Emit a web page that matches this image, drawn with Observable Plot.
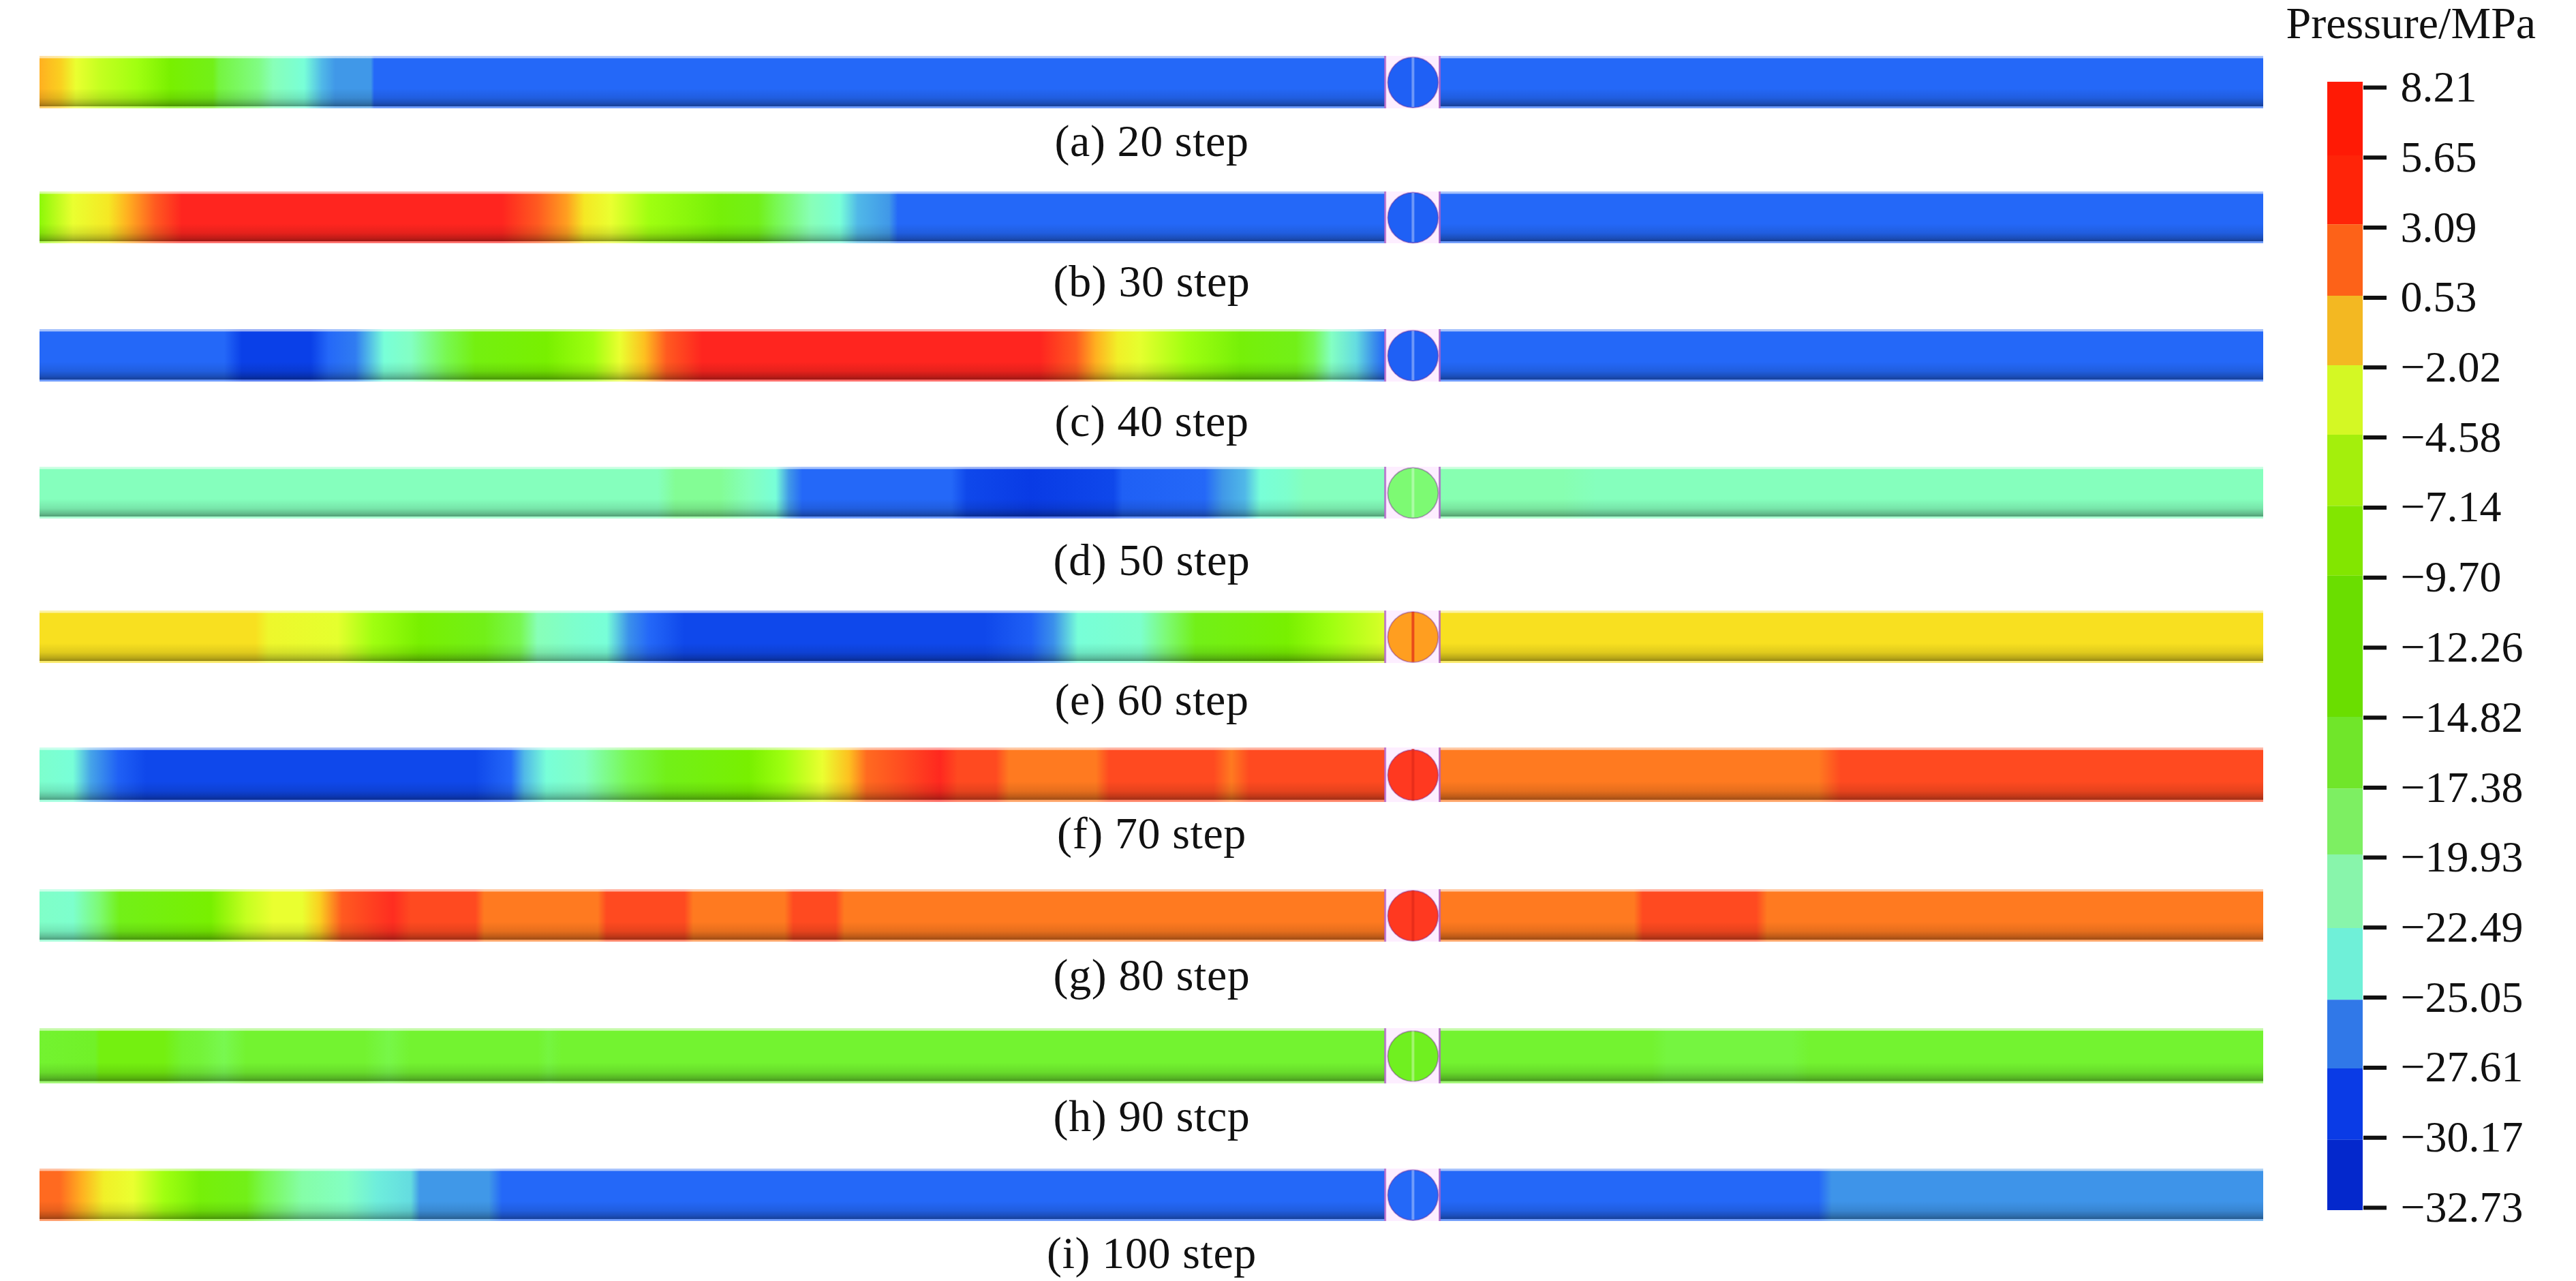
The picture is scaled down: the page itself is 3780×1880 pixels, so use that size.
<!DOCTYPE html>
<html>
<head>
<meta charset="utf-8">
<script src="https://cdn.jsdelivr.net/npm/d3@7"></script>
<script src="https://cdn.jsdelivr.net/npm/@observablehq/plot@0.6"></script>
<style>
html,body{margin:0;padding:0;background:#fff;width:3780px;height:1880px;overflow:hidden}
#main,#legend{position:absolute;top:0}
#main{left:0}#legend{left:3340px}
svg{background:#fff;overflow:visible}
</style>
</head>
<body>
<div id="main"></div>
<div id="legend"></div>
<script>
// ---- captions ----
const captions = ["(a) 20 step","(b) 30 step","(c) 40 step","(d) 50 step","(e) 60 step","(f) 70 step","(g) 80 step","(h) 90 stcp","(i) 100 step"];

// ---- pressure (MPa) read along each pipe, position in % of pipe length ----
const posA = [0,0.95,1.64,2.7,4.4,5.9,7.8,8.07,9.85,10.5,11.9,12.7,13.3,14.9,15.05,100];
const preA = [0.5,-0.5,-3,-4.5,-6,-9,-12,-15,-17.5,-19,-22,-24,-24.8,-24.8,-26,-26];
const posB = [0,1.5,3.1,3.96,5.2,6.4,20.8,22.4,23.7,24.5,25.7,27.4,30.6,32.3,33.1,34.7,36,36.8,38.2,38.6,100];
const preB = [-7.5,-3,-1.5,0.5,3,7,7,3,1,-1.5,-3,-6,-10,-12,-16,-19,-22,-24,-24.8,-26,-26];
const posC = [0,8.3,9.1,12.2,13,14.2,14.8,15.5,16.7,18.3,19.6,22.8,24.9,26.1,27.2,28.2,29.8,45,46.6,47.5,48.5,49.5,51.6,54,56.5,57.3,58.1,59.2,60,60.5,100];
const preC = [-26,-26,-28.5,-28.5,-26,-25.5,-24,-22,-20,-16,-11,-9,-6,-3,0,3,7,7,3,0.5,-2,-3.2,-6,-10,-12,-16,-20,-23,-25,-26,-26];
const posD = [0,27.8,28.6,30.6,31.9,33.1,33.7,34.3,41,41.7,44.6,48.3,48.7,52.4,53.2,54.2,54.9,56.1,56.9,60.5,63.5,68.5,70,100];
const preD = [-19.5,-19.5,-18,-18,-19.5,-22,-24.8,-26,-26,-28,-29,-28,-26.5,-26,-24.8,-24,-22,-21,-19.5,-19.5,-18.8,-18.8,-19.5,-19.5];
const posE = [0,9.7,10.3,13.4,15,17.1,20,21.6,22.4,24.1,25.5,26.5,27.4,29,42.5,44.6,45.6,46.7,49.5,50.7,52,56.1,58.1,60.2,60.5,62,100];
const preE = [-1,-1,-2.5,-3.2,-6,-9,-12,-16,-19,-21,-22,-25,-26,-28,-28,-26.5,-25,-22,-21,-17,-12,-9,-6,-4,-3.5,-1,-1];
const posF = [0,1.5,2.3,3.55,4.8,19.6,21.2,21.8,22.8,24.5,26.5,28.2,31.9,33.5,35.2,36.4,37.2,38.9,40.5,41.3,43,43.6,47.5,48.1,52.8,53.6,54.4,60.5,63,80,81,100];
const preF = [-21,-22,-24.5,-26.5,-28,-28,-26,-24,-22,-20,-16,-12,-9,-6,-3,0,2.5,3.5,6.5,3.5,3.5,2,2,3.5,3.5,2,3.5,3.5,2,2,3.5,3.5];
const posG = [0,1.5,2.7,3.6,7.7,9.3,10.5,11.8,12.6,13.6,15.9,16.7,19.6,20,25.1,25.5,29,29.4,33.5,33.9,35.8,36.2,71.7,72.1,77.2,77.7,100];
const preG = [-20.5,-21,-17,-12,-9,-4.5,-3,-3,-0.5,3,5.5,3.5,3.5,2,2,3.5,3.5,2,2,3.5,3.5,2,2,3.5,3.5,2,2];
const posH = [0,2.5,2.7,5.6,6.4,7.2,8.3,9.3,14.6,15.7,16.7,22.4,22.9,23.5,72.5,73.2,78.8,79.6,100];
const preH = [-14,-13.5,-11,-11,-14,-14.5,-16,-14,-14,-15.5,-14,-14,-15,-14,-14,-15,-15,-14,-14];
const posI = [0,0.9,1.9,2.9,4.2,5.6,7.2,9.3,10.1,11.8,13.8,15.2,16.7,17.1,20.2,20.8,80,80.6,100];
const preI = [2.5,2.5,0.5,-2,-3,-6,-10,-12,-16,-18.5,-20,-22.5,-23,-24.8,-24.8,-26,-26,-24.9,-24.9];
const pipePositions = [posA,posB,posC,posD,posE,posF,posG,posH,posI];
const pipePressures = [preA,preB,preC,preD,preE,preF,preG,preH,preI];
const junctionPressures = [-26.5,-26.5,-26.5,-17,1,4.5,4.5,-13,-26];

// ---- junction geometry along the pipe (%) ----
const gapStart = 60.5, gapEnd = 62.95, junctionAt = 61.75;

// ---- colour of the pressure field ----
const fieldDomain = [-32.73,-31,-28.5,-26,-24.8,-24,-22,-19,-16,-13,-9,-6,-3,-1,0.5,2,3.5,5,8.21];
const fieldColors = ["#0420c8","#0428d8","#0a40e8","#2468f8","#4098e8","#50b8e8","#78ffd8","#88ffb8","#78f850","#70f020","#78f000","#a0ff10","#eaff30","#f8e020","#ffb020","#ff7a20","#ff4a20","#ff3020","#ff1e1e"];

// ---- colour bar ----
const legendTicks = [8.21,5.65,3.09,0.53,-2.02,-4.58,-7.14,-9.70,-12.26,-14.82,-17.38,-19.93,-22.49,-25.05,-27.61,-30.17,-32.73];
const legendEdges = [8.41,5.72,3.20,0.59,-1.95,-4.49,-7.09,-9.64,-12.21,-14.80,-17.42,-19.83,-22.52,-25.14,-27.65,-30.26,-32.83];
const legendColors = ["#ff1a05","#ff2408","#fd6218","#f3b822","#d4f824","#a4ef0c","#82e600","#6ade00","#6ade00","#70e62a","#7def62","#88f5ab","#6ff0d8","#3078e8","#0a3be6","#0428cc"];
const legendTitle = "Pressure/MPa";

// ---- layout of the rows: pipe top, pipe bottom, caption baseline (px) ----
const rowTops     = [82,281,483,685,896,1097,1305,1509,1715];
const rowBottoms  = [159,357,560,761,973,1177,1382,1590,1792];
const captionBase = [228,434,639,843,1048,1244,1452,1659,1860];

const serif = "'Liberation Serif','Times New Roman',serif";
const fieldScale = Plot.scale({color:{type:"linear",domain:fieldDomain,range:fieldColors,interpolate:"rgb"}});
const rows = captions.map((c,i)=>({row:i,caption:c,pressure:junctionPressures[i]}));
const isWarm = d => d.pressure > 0;

function defsMark(index, scales) {
  const defs = d3.create("svg:defs");
  pipePositions.forEach((ps,i)=>{
    const g = defs.append("linearGradient").attr("id",`pipe-${i}`)
      .attr("gradientUnits","userSpaceOnUse")
      .attr("x1",scales.x(0)).attr("x2",scales.x(100)).attr("y1",0).attr("y2",0);
    ps.forEach((p,k)=>g.append("stop").attr("offset",p/100).attr("stop-color",fieldScale.apply(pipePressures[i][k])));
  });
  const s = defs.append("linearGradient").attr("id","shade").attr("x1",0).attr("x2",0).attr("y1",0).attr("y2",1);
  [[0,"#fff",.6],[.04,"#fff",.6],[.05,"#fff",0],[.62,"#000",0],[.8,"#000",.1],[.9,"#000",.25],[.955,"#000",.38],[.96,"#fff",.3],[1,"#fff",.4]]
    .forEach(([o,c,a])=>s.append("stop").attr("offset",o).attr("stop-color",c).attr("stop-opacity",a));
  return defs.node();
}

const yDomain = [], yRange = [];
rows.forEach(({row})=>{
  yDomain.push(row,row+0.4,row+0.7);
  yRange.push(rowTops[row],rowBottoms[row],captionBase[row]);
});

const main = Plot.plot({
  width:3340,height:1880,margin:0,
  style:{fontFamily:serif,letterSpacing:"0.6px",background:"#fff"},
  x:{type:"linear",domain:[0,100],range:[58,3321],axis:null},
  y:{type:"linear",domain:yDomain,range:yRange,axis:null},
  color:{type:"linear",domain:fieldDomain,range:fieldColors,interpolate:"rgb"},
  marks:[
    defsMark,
    // white-pink gap behind each junction
    Plot.rect(rows,{x1:gapStart,x2:gapEnd,y1:"row",y2:d=>d.row+0.4,fill:"#fdeeff"}),
    ...rows.flatMap(({row})=>[
      Plot.rect([row],{x1:0,x2:gapStart,y1:d=>d,y2:d=>d+0.4,fill:`url(#pipe-${row})`}),
      Plot.rect([row],{x1:gapEnd,x2:100,y1:d=>d,y2:d=>d+0.4,fill:`url(#pipe-${row})`})
    ]),
    Plot.rect(rows,{x1:0,x2:gapStart,y1:"row",y2:d=>d.row+0.4,fill:"url(#shade)"}),
    Plot.rect(rows,{x1:gapEnd,x2:100,y1:"row",y2:d=>d.row+0.4,fill:"url(#shade)"}),
    // end plates
    Plot.ruleX(rows,{x:gapStart,y1:"row",y2:d=>d.row+0.4,stroke:"#b060c8",strokeWidth:3,strokeOpacity:.8}),
    Plot.ruleX(rows,{x:gapEnd,y1:"row",y2:d=>d.row+0.4,stroke:"#b060c8",strokeWidth:3,strokeOpacity:.8}),
    // junction disc with its dividing line
    Plot.dot(rows,{x:junctionAt,y:d=>d.row+0.2,r:37,fill:"pressure",stroke:"#702090",strokeOpacity:.4,strokeWidth:2}),
    Plot.ruleX(rows.filter(d=>!isWarm(d)),{x:junctionAt,y1:d=>d.row+0.01,y2:d=>d.row+0.39,stroke:"#fff",strokeWidth:4,strokeOpacity:.35}),
    Plot.ruleX(rows.filter(isWarm),{x:junctionAt,y1:d=>d.row+0.01,y2:d=>d.row+0.39,stroke:"#e02818",strokeWidth:4,strokeOpacity:.7}),
    // captions
    Plot.text(rows,{x:50,y:d=>d.row+0.7,text:"caption",fontSize:66,fill:"#111",lineAnchor:"bottom"})
  ]
});
document.getElementById("main").appendChild(main);

const bands = legendColors.map((c,i)=>({y1:legendEdges[i],y2:legendEdges[i+1],mid:(legendEdges[i]+legendEdges[i+1])/2}));
const fmt = d => (d<0?"\u2212":"")+Math.abs(d).toFixed(2);
const legend = Plot.plot({
  width:440,height:1880,marginLeft:75,marginRight:313,marginTop:0,marginBottom:0,
  style:{fontFamily:serif,fontSize:"64px",background:"#fff",color:"#111"},
  x:{type:"linear",domain:[0,1],range:[75,127],axis:null},
  y:{type:"linear",domain:[8.21,-32.73],range:[128,1772]},
  color:{type:"threshold",domain:legendTicks.slice(1,-1).reverse(),range:legendColors.slice().reverse()},
  marks:[
    Plot.rect(bands,{x1:0,x2:1,y1:"y1",y2:"y2",fill:"mid"}),
    Plot.axisY(legendTicks,{anchor:"right",label:null,tickSize:34,tickPadding:21,strokeWidth:6,stroke:"#111",tickFormat:fmt,fill:"#111"}),
    Plot.text([legendTitle],{frameAnchor:"top-left",dx:-61,dy:55,textAnchor:"start",lineAnchor:"bottom",fontSize:66,fill:"#111"})
  ]
});
document.getElementById("legend").appendChild(legend);
</script>
</body>
</html>
